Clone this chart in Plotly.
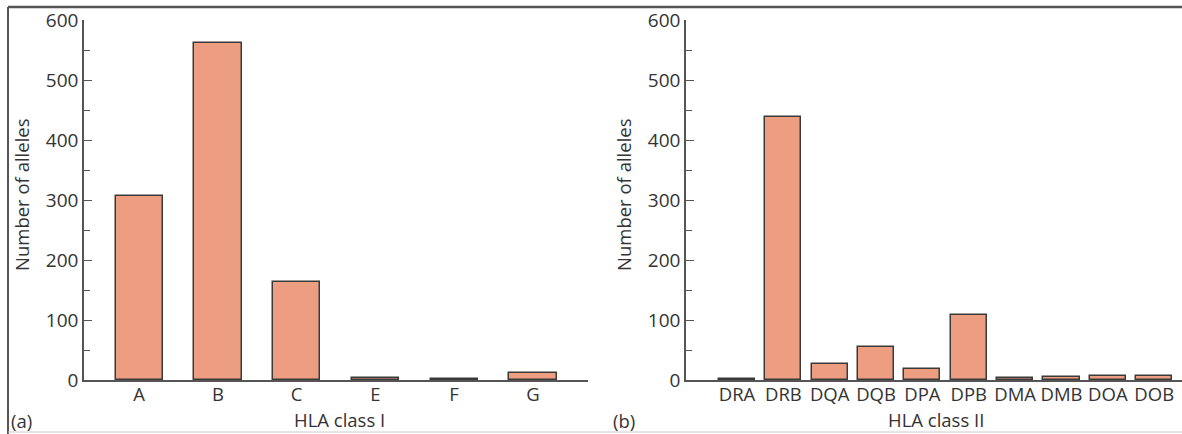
import plotly.graph_objects as go

class1_genes = ["A", "B", "C", "E", "F", "G"]
class1_counts = [307, 561, 164, 4, 1, 12]

class2_genes = ["DRA", "DRB", "DQA", "DQB", "DPA", "DPB", "DMA", "DMB", "DOA", "DOB"]
class2_counts = [2, 439, 26, 55, 19, 108, 4, 5, 7, 7]

y_ticks = [0, 100, 200, 300, 400, 500, 600]

W, H = 1182, 434
FONT = "Open Sans"
TXT = "#333333"
AX = "#555555"
BAR = "#EE9E80"
EDGE = "#3a3a3a"


def px(x):
    return x / W


def py(y):
    return (H - y) / H


fig = go.Figure()
fig.add_trace(go.Bar(x=class1_genes, y=class1_counts, xaxis="x", yaxis="y", width=0.6,
                     marker=dict(color=BAR, line=dict(color=EDGE, width=1.5)), showlegend=False))
fig.add_trace(go.Bar(x=class2_genes, y=class2_counts, xaxis="x2", yaxis="y2", width=0.78,
                     marker=dict(color=BAR, line=dict(color=EDGE, width=1.5)), showlegend=False))

yaxis_common = dict(range=[0, 600], tickvals=y_ticks, showline=True, linecolor=AX, linewidth=1.5,
                    ticks="inside", ticklen=8, tickwidth=1.2, tickcolor=AX,
                    minor=dict(ticks="inside", dtick=50, ticklen=6, tickcolor=AX, tickwidth=1.2),
                    showgrid=False, zeroline=False, ticklabelstandoff=0, automargin=False,
                    tickfont=dict(family=FONT, size=19, color=TXT), fixedrange=True)
xaxis_common = dict(type="category", showline=True, linecolor=AX, linewidth=1.5, ticks="",
                    showgrid=False, zeroline=False, automargin=False, ticklabelstandoff=-3,
                    tickfont=dict(family=FONT, size=18.5, color=TXT), fixedrange=True)

fig.update_layout(
    width=W, height=H, autosize=False,
    margin=dict(l=0, r=0, t=0, b=0, pad=0),
    paper_bgcolor="white", plot_bgcolor="white",
    xaxis=dict(domain=[px(84), px(588)], range=[-0.7, 5.7], anchor="y", **xaxis_common),
    yaxis=dict(domain=[py(380), py(20)], anchor="x", **yaxis_common),
    xaxis2=dict(domain=[px(686), 1.0], range=[-1.1, 9.6], anchor="y2", **xaxis_common),
    yaxis2=dict(domain=[py(380), py(20)], anchor="x2", **yaxis_common),
    bargap=0,
)

annos = [
    dict(text="Number of alleles", x=px(21), y=py(195), textangle=-90),
    dict(text="Number of alleles", x=px(623), y=py(195), textangle=-90),
    dict(text="HLA class I", x=px(339), y=py(419)),
    dict(text="HLA class II", x=px(936), y=py(419)),
    dict(text="(a)", x=px(21), y=py(420)),
    dict(text="(b)", x=px(624), y=py(420)),
]
for a in annos:
    fig.add_annotation(xref="paper", yref="paper", showarrow=False, xanchor="center", yanchor="middle",
                       font=dict(family=FONT, size=18.5, color=TXT), **a)

# outer frame lines
fig.add_shape(type="line", xref="paper", yref="paper", x0=px(8), x1=1.0, y0=py(7), y1=py(7),
              line=dict(color="#555555", width=2.5))
fig.add_shape(type="line", xref="paper", yref="paper", x0=px(8), x1=px(8), y0=py(7), y1=0,
              line=dict(color="#555555", width=2))
fig.add_shape(type="line", xref="paper", yref="paper", x0=px(8), x1=1.0, y0=py(432), y1=py(432),
              line=dict(color="#cccccc", width=1))

fig.write_html("out.html", config={"displayModeBar": False},
               post_script="document.body.style.margin='0';document.body.style.overflow='hidden';")
